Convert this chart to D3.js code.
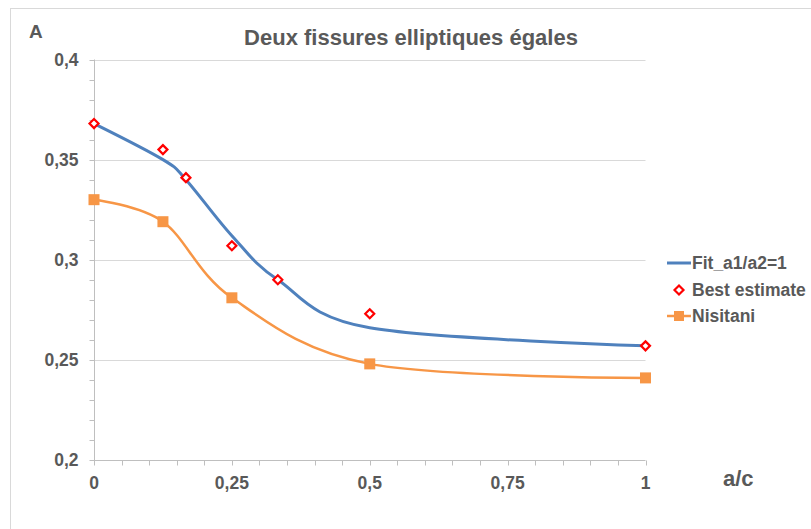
<!DOCTYPE html>
<html><head><meta charset="utf-8">
<script src="https://cdn.jsdelivr.net/npm/d3@7"></script>
<style>body{margin:0;background:#fff;}svg{display:block;font-family:"Liberation Sans",Arial,sans-serif;}</style>
</head><body><svg id="c" width="811" height="529"></svg>
<script>
const fitX = [0, 0.125, 0.1667, 0.25, 0.3333, 0.5, 1];
const fitY = [0.368, 0.350, 0.340, 0.312, 0.290, 0.266, 0.257];
const bestX = [0, 0.125, 0.1667, 0.25, 0.3333, 0.5, 1];
const bestY = [0.368, 0.355, 0.341, 0.307, 0.290, 0.273, 0.257];
const nisX = [0, 0.125, 0.25, 0.5, 1];
const nisY = [0.330, 0.319, 0.281, 0.248, 0.241];
const xTicks = [0, 0.25, 0.5, 0.75, 1];
const xTickLabels = ["0", "0,25", "0,5", "0,75", "1"];
const yTicks = [0.2, 0.25, 0.3, 0.35, 0.4];
const yTickLabels = ["0,2", "0,25", "0,3", "0,35", "0,4"];
const seriesNames = ["Fit_a1/a2=1", "Best estimate", "Nisitani"];
const title = "Deux fissures elliptiques égales";

const svg = d3.select("#c");
const TXT = "#595959";
const x = d3.scaleLinear().domain([0, 1]).range([94, 645.5]);
const y = d3.scaleLinear().domain([0.2, 0.4]).range([460, 59.5]);

// frame
svg.append("rect").attr("x", 10.5).attr("y", 8.5).attr("width", 820).attr("height", 540)
  .attr("fill", "none").attr("stroke", "#D9D9D9").attr("stroke-width", 1);

// gridlines
svg.append("g").selectAll("line").data(yTicks.slice(1)).join("line")
  .attr("x1", x(0)).attr("x2", x(1)).attr("y1", d => Math.round(y(d)) + 0.5).attr("y2", d => Math.round(y(d)) + 0.5)
  .attr("stroke", "#D9D9D9").attr("stroke-width", 1);

// y axis with minor ticks
const yMinor = d3.range(0, 21).map(i => 0.2 + i * 0.01);
const ya = svg.append("g").attr("transform", `translate(${x(0) + 0.5},0)`);
ya.append("line").attr("y1", y(0.4)).attr("y2", y(0.2)).attr("stroke", "#BFBFBF");
ya.selectAll("line.t").data(yMinor).join("line").attr("class", "t")
  .attr("x1", -5).attr("x2", 0).attr("y1", d => Math.round(y(d)) + 0.5).attr("y2", d => Math.round(y(d)) + 0.5)
  .attr("stroke", "#BFBFBF");
ya.selectAll("text").data(yTicks).join("text")
  .attr("x", -16).attr("y", d => y(d)).attr("dy", "0.35em").attr("text-anchor", "end")
  .attr("font-size", 17.5).attr("font-weight", "bold").attr("fill", TXT)
  .text((d, i) => yTickLabels[i]);

// x axis with minor ticks
const xMinor = d3.range(0, 21).map(i => i * 0.05);
const xa = svg.append("g").attr("transform", `translate(0,${y(0.2) + 0.5})`);
xa.append("line").attr("x1", x(0)).attr("x2", x(1)).attr("stroke", "#BFBFBF");
xa.selectAll("line.t").data(xMinor).join("line").attr("class", "t")
  .attr("x1", d => Math.round(x(d)) + 0.5).attr("x2", d => Math.round(x(d)) + 0.5).attr("y1", 0).attr("y2", 5)
  .attr("stroke", "#BFBFBF");
xa.selectAll("text").data(xTicks).join("text")
  .attr("x", d => x(d)).attr("y", 28).attr("text-anchor", "middle")
  .attr("font-size", 17.5).attr("font-weight", "bold").attr("fill", TXT)
  .text((d, i) => xTickLabels[i]);

// title, labels
svg.append("text").attr("x", 411).attr("y", 45).attr("text-anchor", "middle")
  .attr("font-size", 22).attr("font-weight", "bold").attr("fill", TXT).text(title);
svg.append("text").attr("x", 29).attr("y", 38).attr("font-size", 19).attr("font-weight", "bold").attr("fill", TXT).text("A");
svg.append("text").attr("x", 723).attr("y", 486).attr("font-size", 22).attr("font-weight", "bold").attr("fill", TXT).text("a/c");

const curve = d3.curveCardinal.tension(0);
const line = d3.line().x(d => x(d[0])).y(d => y(d[1])).curve(curve);

// Nisitani
const nis = nisX.map((v, i) => [v, nisY[i]]);
svg.append("path").attr("d", line(nis)).attr("fill", "none").attr("stroke", "#F79646").attr("stroke-width", 2.5);
svg.append("g").selectAll("rect").data(nis).join("rect")
  .attr("x", d => x(d[0]) - 5.5).attr("y", d => y(d[1]) - 5.5).attr("width", 11).attr("height", 11)
  .attr("fill", "#F79646");

// Fit
const fit = fitX.map((v, i) => [v, fitY[i]]);
svg.append("path").attr("d", line(fit)).attr("fill", "none").attr("stroke", "#4F81BD").attr("stroke-width", 3);

// Best estimate diamonds
const best = bestX.map((v, i) => [v, bestY[i]]);
svg.append("g").selectAll("path").data(best).join("path")
  .attr("transform", d => `translate(${x(d[0])},${y(d[1])})`)
  .attr("d", "M0,-4.5L4.5,0L0,4.5L-4.5,0Z")
  .attr("fill", "#fff").attr("stroke", "#FF0000").attr("stroke-width", 2.2);

// legend
const lg = svg.append("g").attr("font-size", 17.5).attr("font-weight", "bold").attr("fill", TXT);
const ly = [263, 290, 316];
lg.append("line").attr("x1", 667).attr("x2", 691).attr("y1", ly[0]).attr("y2", ly[0]).attr("stroke", "#4F81BD").attr("stroke-width", 3);
lg.append("path").attr("transform", `translate(679,${ly[1]})`).attr("d", "M0,-4.5L4.5,0L0,4.5L-4.5,0Z")
  .attr("fill", "#fff").attr("stroke", "#FF0000").attr("stroke-width", 2.2);
lg.append("line").attr("x1", 667).attr("x2", 691).attr("y1", ly[2]).attr("y2", ly[2]).attr("stroke", "#F79646").attr("stroke-width", 2.5);
lg.append("rect").attr("x", 674).attr("y", ly[2] - 5).attr("width", 10).attr("height", 10).attr("fill", "#F79646");
lg.selectAll("text").data(seriesNames).join("text")
  .attr("x", 692).attr("y", (d, i) => ly[i]).attr("dy", "0.35em").text(d => d);
</script></body></html>
